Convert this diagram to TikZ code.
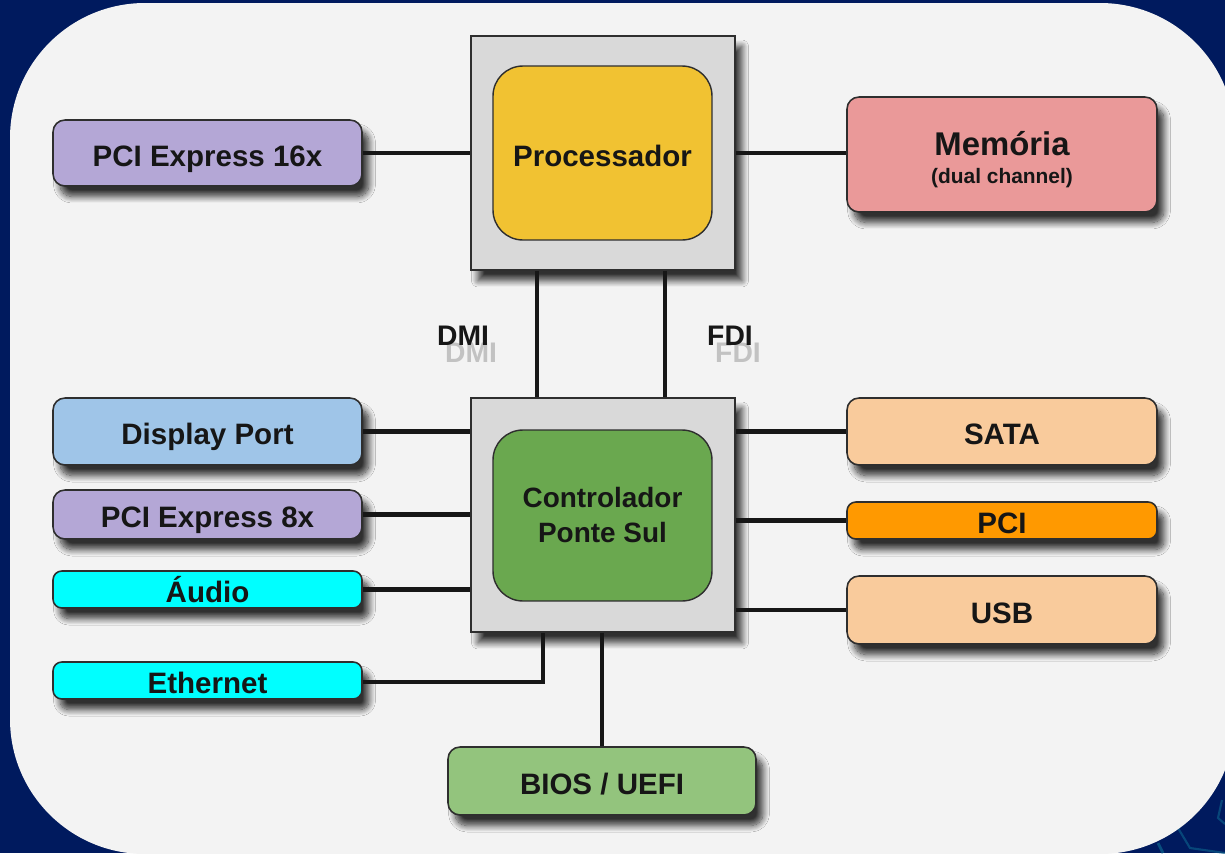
\documentclass[tikz,border=0pt]{standalone}
\usepackage{fontspec}
\setmainfont{Liberation Sans}
\usetikzlibrary{shadows.blur}

\definecolor{navy}{HTML}{001A5E}
\definecolor{teal}{HTML}{0B5A86}
\definecolor{panel}{HTML}{F3F3F3}
\definecolor{chipgray}{HTML}{D9D9D9}
\definecolor{edge}{HTML}{2E2E2E}
\definecolor{ink}{HTML}{161616}
\definecolor{lilac}{HTML}{B4A7D6}
\definecolor{sky}{HTML}{9FC5E8}
\definecolor{aqua}{HTML}{00FFFF}
\definecolor{peach}{HTML}{F9CB9C}
\definecolor{amber}{HTML}{FF9900}
\definecolor{rose}{HTML}{EA9999}
\definecolor{gold}{HTML}{F1C232}
\definecolor{leaf}{HTML}{6AA84F}
\definecolor{sage}{HTML}{93C47D}

\tikzset{
  lbl/.style={font=\fontsize{16.8}{20}\selectfont\bfseries, text=ink, align=center,
      inner sep=0pt, text height=15pt, text depth=0pt},
  soft shadow/.style={blur shadow={shadow xshift=1.4mm, shadow yshift=-2.1mm,
      shadow blur radius=1.3mm, shadow blur steps=12, shadow opacity=80}},
  card/.style={draw=edge, line width=0.9pt, rounded corners=6.8pt, soft shadow, lbl},
  chip/.style={draw=edge, fill=chipgray, line width=0.9pt, soft shadow,
      minimum width=5.28cm, minimum height=4.68cm, inner sep=0pt},
  core/.style={draw=edge, line width=0.8pt, rounded corners=17pt, lbl,
      minimum width=4.38cm},
  wire/.style={draw=ink, line width=2.4pt},
  bus/.style={font=\fontsize{16.1}{19}\selectfont\bfseries, text=ink, inner sep=0pt},
  busghost/.style={font=\fontsize{16.1}{19}\selectfont\bfseries, text=black!24,
      inner sep=0pt},
}

\begin{document}
\begin{tikzpicture}[x=0.02cm, y=-0.02cm]
  \useasboundingbox (0,0) rectangle (1225,853);
  \clip (0,0) rectangle (1225,853);

  % backdrop and rounded panel
  \fill[navy] (0,0) rectangle (1225,853);
  \draw[teal, line width=1.2pt, opacity=0.7]
    (1178,828) -- (1190,848) -- (1225,853);
  \draw[teal, line width=1.6pt, opacity=0.8] (1158,843) -- (1163,853);
  \draw[teal, line width=1.2pt, opacity=0.7] (1222,800) -- (1218,818) -- (1225,824);
  \fill[panel, rounded corners=2.7cm] (10,3) rectangle (1235,854);

  % chipset packages
  \node[chip] (cpuOuter) at (603,153) {};
  \node[chip] (pchOuter) at (603,515) {};
  \node[core, fill=gold, minimum height=3.48cm] (cpu) at (602.5,153) {Processador};
  \node[core, fill=leaf, minimum height=3.42cm, text height=30.6pt,
        font=\fontsize{15.9}{19.8}\selectfont\bfseries] (pch) at (602.5,515.5)
        {Controlador\\Ponte Sul};

  % peripherals on the left
  \node[card, fill=lilac, minimum width=6.18cm, minimum height=1.32cm] (pcie16) at (207.5,153) {PCI Express 16x};
  \node[card, fill=sky,   minimum width=6.18cm, minimum height=1.34cm] (dp)     at (207.5,431.5) {Display Port};
  \node[card, fill=lilac, minimum width=6.18cm, minimum height=0.98cm] (pcie8)  at (207.5,514.5) {PCI Express 8x};
  \node[card, fill=aqua,  minimum width=6.18cm, minimum height=0.74cm, rounded corners=5pt] (audio) at (207.5,589.5) {Áudio};
  \node[card, fill=aqua,  minimum width=6.18cm, minimum height=0.74cm, rounded corners=5pt] (eth)   at (207.5,680.5) {Ethernet};

  % peripherals on the right
  \node[card, fill=rose, minimum width=6.2cm, minimum height=2.3cm,
        text height=33.4pt, text depth=0pt] (mem) at (1002,154.5)
    {{\fontsize{18.7}{22}\selectfont Memória}\\[-4pt]{\fontsize{11.9}{14}\selectfont (dual channel)}};
  \node[card, fill=peach, minimum width=6.2cm, minimum height=1.34cm] (sata) at (1002,431.5) {SATA};
  \node[card, fill=amber, minimum width=6.2cm, minimum height=0.74cm, rounded corners=5pt] (pci) at (1002,520.5) {PCI};
  \node[card, fill=peach, minimum width=6.2cm, minimum height=1.36cm] (usb) at (1002,610) {USB};

  % firmware
  \node[card, fill=sage, minimum width=6.16cm, minimum height=1.36cm] (bios) at (602,781) {BIOS / UEFI};

  % bus labels, each with a pale shadow copy
  \node[busghost] (dmiShade) at (471,353) {DMI};
  \node[busghost] (fdiShade) at (738,353) {FDI};
  \node[bus] (dmi) at (463,336) {DMI};
  \node[bus] (fdi) at (730,336) {FDI};

  % connections
  \draw[wire] (pcie16.east) -- (cpuOuter.west |- pcie16.east);
  \draw[wire] (cpuOuter.east) -- (mem.west |- cpuOuter.east);
  \draw[wire] ([xshift=-1.32cm]cpuOuter.south) -- ([xshift=-1.32cm]pchOuter.north);
  \draw[wire] ([xshift=1.24cm]cpuOuter.south) -- ([xshift=1.24cm]pchOuter.north);

  \draw[wire] (dp.east) -- (pchOuter.west |- dp.east);
  \draw[wire] (pcie8.east) -- (pchOuter.west |- pcie8.east);
  \draw[wire] (audio.east) -- (pchOuter.west |- audio.east);
  \draw[wire] ([yshift=-0.03cm]eth.east) -| ([xshift=-1.2cm]pchOuter.south);

  \draw[wire] (pchOuter.east |- sata.west) -- (sata.west);
  \draw[wire] (pchOuter.east |- pci.west) -- (pci.west);
  \draw[wire] (pchOuter.east |- usb.west) -- (usb.west);
  \draw[wire] (pchOuter.south -| bios.north) -- (bios.north);
\end{tikzpicture}
\end{document}
